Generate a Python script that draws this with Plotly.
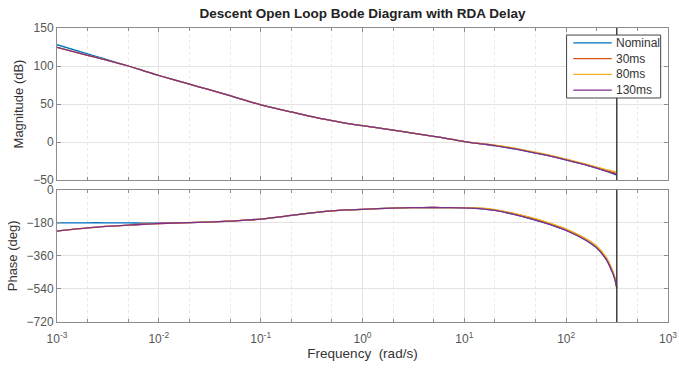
import plotly.graph_objects as go

# ---------------- data ----------------
freq = [0.001, 0.002, 0.003, 0.005, 0.007, 0.01, 0.02, 0.03, 0.05, 0.07, 0.1, 0.2, 0.3,
        0.5, 0.7, 1, 2, 3, 5, 7, 10, 15, 20, 30, 50, 70, 100, 150, 200, 250, 280, 300, 314]

mag_nominal = [128, 116, 109, 100, 94, 87.5, 76, 69.5, 61, 55, 49, 39.5, 34,
               28, 24.5, 21.5, 15.5, 12, 7.5, 4.2, 0.6, -2.6, -4.8, -8.7, -14.5, -18.5,
               -23.5, -29.5, -34.5, -38.5, -41, -42.5, -43.5]
mag_30 = [124.5, 114, 108, 100, 94, 87.5, 76, 69.5, 61, 55, 49, 39.5, 34,
          28, 24.5, 21.5, 15.5, 12, 7.5, 4.2, 0.6, -2.4, -4.4, -8.2, -14, -18,
          -23, -29, -33.5, -37.5, -39.5, -40.5, -41.5]
mag_80 = [124.5, 114, 108, 100, 94, 87.5, 76, 69.5, 61, 55, 49, 39.5, 34,
          28, 24.5, 21.5, 15.5, 12, 7.5, 4.2, 0.6, -2.2, -4.1, -7.7, -13.5, -17.5,
          -22.5, -28.5, -33, -36.5, -38, -39, -40]
mag_130 = [124.5, 114, 108, 100, 94, 87.5, 76, 69.5, 61, 55, 49, 39.5, 34,
           28, 24.5, 21.5, 15.5, 12, 7.5, 4.2, 0.6, -2.6, -4.8, -8.7, -14.5, -18.5,
           -23.5, -29.5, -34.5, -38.5, -40.5, -42, -43]

ph_nominal = [-180, -180, -180, -181, -181.5, -182, -179, -176, -171, -166, -160, -140, -128,
              -115, -110, -107, -100, -98, -97, -97.5, -99, -104, -113, -133, -165, -190,
              -222, -270, -318, -383, -440, -485, -535]
ph_30 = [-225, -208, -200, -193, -188, -184, -179, -176, -171, -166, -160, -140, -128,
         -115, -110, -107, -100, -98, -97, -97.5, -98, -102, -110, -129, -160, -185,
         -216, -263, -310, -375, -432, -478, -532]
ph_80 = [-225, -208, -200, -193, -188, -184, -179, -176, -171, -166, -160, -140, -128,
         -115, -110, -107, -100, -98, -97, -97.5, -98, -101, -109, -128, -158, -183,
         -214, -261, -308, -372, -430, -476, -532]
ph_130 = [-225, -208, -200, -193, -188, -184, -179, -176, -171, -166, -160, -140, -128,
          -115, -110, -107, -100, -98, -97, -97.5, -99, -104, -113, -133, -165, -190,
          -222, -270, -318, -383, -440, -485, -535]

series_names = ["Nominal", "30ms", "80ms", "130ms"]
series_colors = ["#0072BD", "#D95319", "#EDB120", "#7E2F8E"]
mag_data = [mag_nominal, mag_30, mag_80, mag_130]
ph_data = [ph_nominal, ph_30, ph_80, ph_130]

nyquist = 314

x_tickvals = [1e-3, 1e-2, 1e-1, 1, 10, 100, 1000]
x_ticktext = ["10<sup>-3</sup>", "10<sup>-2</sup>", "10<sup>-1</sup>", "10<sup>0</sup>",
              "10<sup>1</sup>", "10<sup>2</sup>", "10<sup>3</sup>"]
mag_ticks = [150, 100, 50, 0, -50]
ph_ticks = [0, -180, -360, -540, -720]

FONT = "Liberation Sans, Arial, sans-serif"

# ---------------- figure ----------------
fig = go.Figure()
for name, col, m, p in zip(series_names, series_colors, mag_data, ph_data):
    fig.add_trace(go.Scatter(x=freq, y=m, name=name, mode="lines", showlegend=False,
                             line=dict(color=col, width=1.3, shape="spline", smoothing=0.8),
                             xaxis="x", yaxis="y"))
    fig.add_trace(go.Scatter(x=freq, y=p, name=name, mode="lines", showlegend=False,
                             line=dict(color=col, width=1.3, shape="spline", smoothing=0.8),
                             xaxis="x2", yaxis="y2"))

axis_common = dict(showline=True, linecolor="#8c8c8c", linewidth=1, mirror="allticks",
                   ticks="inside", ticklen=4, tickcolor="#8c8c8c", automargin=False,
                   showgrid=True, gridcolor="#e3e3e3", gridwidth=1, zeroline=False,
                   tickfont=dict(family=FONT, size=12, color="#555555"))

xaxis_common = dict(axis_common, type="log", range=[-3, 3],
                    tickvals=x_tickvals, ticktext=x_ticktext,
                    minor=dict(showgrid=True, gridcolor="#e8e8e8", griddash="dot",
                               ticks="inside", ticklen=3, tickcolor="#8c8c8c"))

fig.update_layout(
    width=679, height=370,
    margin=dict(l=57, r=11, t=28, b=48),
    plot_bgcolor="white", paper_bgcolor="white",
    font=dict(family=FONT, size=12, color="#333333"),
    title=dict(text="<b>Descent Open Loop Bode Diagram with RDA Delay</b>",
               xref="paper", x=0.5, xanchor="center", y=0.965, yanchor="middle",
               font=dict(size=13.5, color="#222222")),
    xaxis=dict(xaxis_common, domain=[0, 1], anchor="y", showticklabels=False),
    yaxis=dict(axis_common, domain=[0.483, 1], range=[-50, 150], tickvals=mag_ticks,
               title=dict(text="Magnitude (dB)", standoff=6,
                          font=dict(size=13, color="#333333"))),
    xaxis2=dict(xaxis_common, domain=[0, 1], anchor="y2", ticklabelstandoff=6,
                title=dict(text="Frequency  (rad/s)", standoff=3,
                           font=dict(size=13.5, color="#333333"))),
    yaxis2=dict(axis_common, domain=[0, 0.45], range=[-720, 0], tickvals=ph_ticks,
                title=dict(text="Phase (deg)", standoff=6,
                           font=dict(size=13, color="#333333"))),
    showlegend=False,
)

for xr, yr in (("x", "y domain"), ("x2", "y2 domain")):
    fig.add_shape(type="line", xref=xr, yref=yr, x0=nyquist, x1=nyquist, y0=0, y1=1,
                  line=dict(color="#404040", width=1.5))

# ---------------- legend box (drawn in paper coordinates) ----------------
leg_x0, leg_x1, leg_top, leg_bot = 0.834, 0.988, 0.976, 0.762
fig.add_shape(type="rect", xref="paper", yref="paper", x0=leg_x0, x1=leg_x1,
              y0=leg_bot, y1=leg_top, line=dict(color="#444444", width=1),
              fillcolor="white", layer="above")
row_step = (leg_top - leg_bot) / 4
for i, (name, col) in enumerate(zip(series_names, series_colors)):
    yy = leg_top - row_step * (i + 0.5)
    fig.add_shape(type="line", xref="paper", yref="paper", x0=0.845, x1=0.908,
                  y0=yy, y1=yy, line=dict(color=col, width=1.2), layer="above")
    fig.add_annotation(xref="paper", yref="paper", x=0.912, y=yy, text=name,
                       showarrow=False, xanchor="left", yanchor="middle",
                       font=dict(family=FONT, size=12, color="#333333"))

fig.write_html("out.html")
